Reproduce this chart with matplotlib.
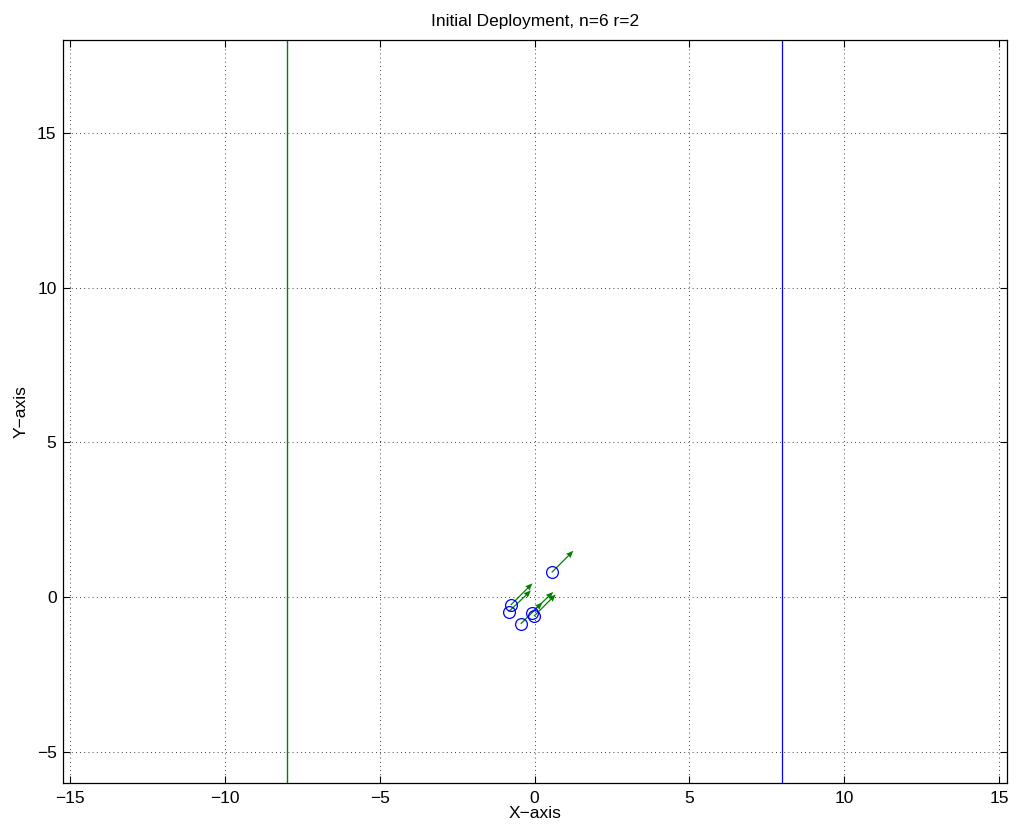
import matplotlib.pyplot as plt
import numpy as np

plt.rcParams['font.family'] = ['Liberation Sans', 'DejaVu Sans']

# node positions
node_x = [0.55, -0.77, -0.84, -0.10, -0.02, -0.45]
node_y = [0.80, -0.25, -0.47, -0.50, -0.61, -0.86]
# velocity vectors
vel_u = [0.70, 0.70, 0.72, 0.70, 0.70, 0.70]
vel_v = [0.70, 0.70, 0.69, 0.67, 0.70, 0.69]

left_bound = -8
right_bound = 8
x_ticks = [-15, -10, -5, 0, 5, 10, 15]
y_ticks = [-5, 0, 5, 10, 15]

fig = plt.figure(figsize=(10.19, 8.34), dpi=100)
ax = fig.add_axes([0.0623, 0.0612, 0.9257, 0.8908])

ax.axvline(left_bound, color='#008000', linewidth=1.0)
ax.axvline(right_bound, color='blue', linewidth=0.9)

ax.plot(node_x, node_y, 'o', markerfacecolor='none', markeredgecolor='blue',
        markersize=8.5, markeredgewidth=0.9)
ax.quiver(node_x, node_y, vel_u, vel_v, angles='xy', scale_units='xy', scale=1,
          color='#008000', width=0.0013, headwidth=5, headlength=6, headaxislength=5.5)

ax.set_xlim(-15.22, 15.25)
ax.set_ylim(-6, 18)
ax.set_xticks(x_ticks)
ax.set_yticks(y_ticks)
ax.grid(True, linestyle=(0, (1, 4)), color='black', linewidth=0.6)
ax.tick_params(direction='in', top=True, right=True, length=5, labelsize=12.5)
ax.tick_params(axis='x', pad=6)
ax.tick_params(axis='y', pad=5)
for s in ax.spines.values():
    s.set_linewidth(0.9)

ax.set_title('Initial Deployment, n=6 r=2', fontsize=12.5, pad=10)
ax.set_xlabel('X\u2212axis', fontsize=12.5, labelpad=0)
ax.set_ylabel('Y\u2212axis', fontsize=12.5, labelpad=6)

fig.savefig('out.png', dpi=100)
